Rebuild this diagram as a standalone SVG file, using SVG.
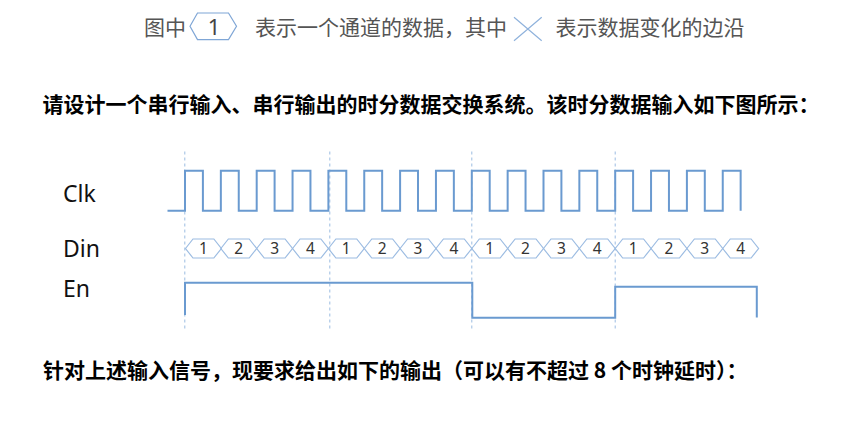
<svg xmlns="http://www.w3.org/2000/svg" width="845" height="432" viewBox="0 0 845 432">
<style>
.cn{font-family:"Noto Sans CJK SC","Noto Sans",sans-serif;}
.hdr{font-size:21px;fill:#555555;}
.bold{font-size:21px;font-weight:bold;fill:#000000;}
.lbl{font-family:"Noto Sans","Open Sans",sans-serif;font-size:23px;fill:#111111;}
.dig{font-family:"Noto Sans","Open Sans",sans-serif;font-size:15.5px;fill:#333333;text-anchor:middle;}
.sig{fill:none;stroke:#6A9AD0;stroke-width:2;}
.hex{fill:none;stroke:#9CBCE2;stroke-width:1.2;}
.dash{stroke:#9CBCE2;stroke-width:1;stroke-dasharray:3 3;}
</style>
<defs>
<polygon id="hx" class="hex" points="0,0 7.5,-9.5 28.35,-9.5 35.85,0 28.35,9.5 7.5,9.5"/>
</defs>
<rect width="845" height="432" fill="#ffffff"/>

<g id="legend">
<text class="cn hdr" x="144" y="35">图中</text>
<polygon class="hex" points="190,26.3 197.5,13 228.5,13 236.5,26.3 228.5,39.6 197.5,39.6" style="stroke:#7FA6D6"/>
<text class="dig" x="214" y="34.7" style="font-size:22px;fill:#444">1</text>
<text class="cn hdr" x="255" y="35">表示一个通道的数据，其中</text>
<path d="M514,17.3 L541.7,40.7 M541.7,17.3 L514,40.7" fill="none" stroke="#8FB2DC" stroke-width="1.2"/>
<text class="cn hdr" x="555.5" y="35">表示数据变化的边沿</text>
</g>

<g id="question1">
<text class="cn bold" x="42.5" y="111.5">请设计一个串行输入、串行输出的时分数据交换系统。该时分数据输入如下图所示：</text>
</g>

<g id="labels">
<text class="lbl" x="63" y="201.7">Clk</text>
<text class="lbl" x="63" y="257.3">Din</text>
<text class="lbl" x="63" y="296.7">En</text>
</g>

<g id="connectors">
<line class="dash" x1="184.8" y1="151.5" x2="184.8" y2="328.5"/>
<line class="dash" x1="329.8" y1="151.5" x2="329.8" y2="328.5"/>
<line class="dash" x1="471.8" y1="151.5" x2="471.8" y2="328.5"/>
<line class="dash" x1="615.2" y1="151.5" x2="615.2" y2="328.5"/>
</g>

<g id="clk">
<path class="sig" d="M167.5 210.7 H185 V170.7 H202.9 V210.7 H220.85 V170.7 H238.75 V210.7 H256.7 V170.7 H274.6 V210.7 H292.55 V170.7 H310.45 V210.7 H328.4 V170.7 H346.3 V210.7 H364.25 V170.7 H382.15 V210.7 H400.1 V170.7 H418 V210.7 H435.95 V170.7 H453.85 V210.7 H471.8 V170.7 H489.7 V210.7 H507.65 V170.7 H525.55 V210.7 H543.5 V170.7 H561.4 V210.7 H579.35 V170.7 H597.25 V210.7 H615.2 V170.7 H633.1 V210.7 H651.05 V170.7 H668.95 V210.7 H686.9 V170.7 H704.8 V210.7 H722.75 V170.7 H740.65 V210.7"/>
</g>

<g id="din">
<use href="#hx" x="185.5" y="248.5"/>
<use href="#hx" x="220.85" y="248.5"/>
<use href="#hx" x="256.7" y="248.5"/>
<use href="#hx" x="292.55" y="248.5"/>
<use href="#hx" x="328.4" y="248.5"/>
<use href="#hx" x="364.25" y="248.5"/>
<use href="#hx" x="400.1" y="248.5"/>
<use href="#hx" x="435.95" y="248.5"/>
<use href="#hx" x="471.8" y="248.5"/>
<use href="#hx" x="507.65" y="248.5"/>
<use href="#hx" x="543.5" y="248.5"/>
<use href="#hx" x="579.35" y="248.5"/>
<use href="#hx" x="615.2" y="248.5"/>
<use href="#hx" x="651.05" y="248.5"/>
<use href="#hx" x="686.9" y="248.5"/>
<use href="#hx" x="722.75" y="248.5"/>
<text class="dig" x="203.4" y="254">1</text>
<text class="dig" x="238.75" y="254">2</text>
<text class="dig" x="274.6" y="254">3</text>
<text class="dig" x="310.45" y="254">4</text>
<text class="dig" x="346.3" y="254">1</text>
<text class="dig" x="382.15" y="254">2</text>
<text class="dig" x="418" y="254">3</text>
<text class="dig" x="453.85" y="254">4</text>
<text class="dig" x="489.7" y="254">1</text>
<text class="dig" x="525.55" y="254">2</text>
<text class="dig" x="561.4" y="254">3</text>
<text class="dig" x="597.25" y="254">4</text>
<text class="dig" x="633.1" y="254">1</text>
<text class="dig" x="668.95" y="254">2</text>
<text class="dig" x="704.8" y="254">3</text>
<text class="dig" x="740.65" y="254">4</text>
</g>

<g id="en">
<path class="sig" d="M185 315 V282.7 H472.3 V317.7 H615.2 V286.7 H756.8 V317.5"/>
</g>

<g id="question2">
<text class="cn bold" x="43" y="378">针对上述输入信号，现要求给出如下的输出（可以有不超过 8 个时钟延时）：</text>
</g>
</svg>
